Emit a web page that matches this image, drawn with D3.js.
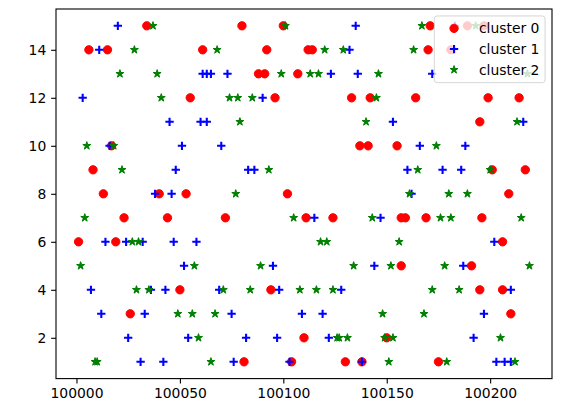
<!DOCTYPE html>
<html>
<head>
<meta charset="utf-8">
<script src="https://cdn.jsdelivr.net/npm/d3@7"></script>
<style>
  body { margin: 0; background: #fff; }
  svg { display: block; }
  text { font-family: "DejaVu Sans", sans-serif; }
</style>
</head>
<body>
<div id="chart"></div>
<script>
'use strict'

// points: [x, y]
const cluster0 = [
    [100034,15],[100080,15],[100100,15],[100171,15],[100189,15],[100197,15],
    [100006,14],[100015,14],[100061,14],[100092,14],[100112,14],[100114,14],[100170,14],[100181,14],
    [100088,13],[100091,13],[100107,13],
    [100055,12],[100096,12],[100133,12],[100142,12],[100164,12],[100199,12],[100214,12],
    [100195,11],
    [100017,10],[100137,10],[100141,10],[100155,10],
    [100008,9],[100201,9],[100217,9],
    [100013,8],[100040,8],[100053,8],[100102,8],[100209,8],
    [100023,7],[100044,7],[100072,7],[100111,7],[100124,7],[100157,7],[100159,7],[100169,7],[100196,7],
    [100001,6],[100019,6],[100206,6],
    [100157,5],[100191,5],
    [100050,4],[100094,4],[100195,4],[100206,4],
    [100026,3],[100210,3],
    [100110,2],[100150,2],
    [100081,1],[100104,1],[100130,1],[100138,1],[100175,1]
];

const cluster1 = [
    [100020,15],[100135,15],[100183,15],
    [100011,14],[100132,14],
    [100061,13],[100063,13],[100065,13],[100073,13],[100123,13],[100136,13],[100172,13],
    [100003,12],[100090,12],
    [100045,11],[100060,11],[100063,11],[100153,11],[100216,11],
    [100016,10],[100051,10],[100070,10],[100166,10],[100188,10],
    [100048,9],[100083,9],[100086,9],[100160,9],[100177,9],[100186,9],
    [100038,8],[100046,8],[100162,8],
    [100115,7],[100147,7],
    [100014,6],[100024,6],[100032,6],[100047,6],[100058,6],[100202,6],
    [100052,5],[100095,5],[100144,5],[100187,5],
    [100007,4],[100036,4],[100043,4],[100069,4],[100098,4],[100128,4],[100210,4],
    [100012,3],[100033,3],[100075,3],[100109,3],[100119,3],[100197,3],
    [100025,2],[100054,2],[100082,2],[100097,2],[100122,2],[100192,2],
    [100031,1],[100042,1],[100076,1],[100103,1],[100138,1],[100203,1],[100207,1],[100210,1]
];

const cluster2 = [
    [100037,15],[100101,15],[100167,15],[100193,15],
    [100028,14],[100068,14],[100120,14],[100129,14],[100163,14],
    [100021,13],[100039,13],[100099,13],[100113,13],[100117,13],[100146,13],[100218,13],
    [100041,12],[100074,12],[100078,12],[100085,12],[100145,12],
    [100079,11],[100140,11],[100213,11],
    [100005,10],[100018,10],[100174,10],
    [100022,9],[100093,9],[100165,9],[100200,9],
    [100077,8],[100161,8],[100180,8],[100189,8],
    [100004,7],[100105,7],[100143,7],[100176,7],[100181,7],[100215,7],
    [100027,6],[100030,6],[100118,6],[100121,6],[100156,6],
    [100002,5],[100057,5],[100089,5],[100134,5],[100152,5],[100178,5],[100219,5],
    [100029,4],[100035,4],[100071,4],[100084,4],[100108,4],[100116,4],[100124,4],[100172,4],[100185,4],
    [100049,3],[100056,3],[100067,3],[100148,3],[100168,3],
    [100059,2],[100126,2],[100127,2],[100131,2],[100149,2],[100153,2],[100205,2],
    [100009,1],[100010,1],[100065,1],[100151,1],[100179,1],[100212,1]
];

const clusterNames = ['cluster 0', 'cluster 1', 'cluster 2'];
const xTicks = [100000, 100050, 100100, 100150, 100200];
const yTicks = [2, 4, 6, 8, 10, 12, 14];

let width = 570,
    height = 416,
    margin = {top: 9, right: 18, bottom: 37.4, left: 56};

let svg = d3.select('#chart')
    .append('svg')
        .attr('width', width)
        .attr('height', height);

let all = cluster0.concat(cluster1, cluster2);

// matplotlib style 5% padding
let pad = ([lo, hi]) => [lo - (hi - lo) * 0.05, hi + (hi - lo) * 0.05];

let x = d3.scaleLinear()
    .domain(pad(d3.extent(all, d => d[0])))
    .range([margin.left, width - margin.right]);

let y = d3.scaleLinear()
    .domain(pad(d3.extent(all, d => d[1])))
    .range([height - margin.bottom, margin.top]);

const tick = 4.86;

let xAxis = svg.append('g')
    .attr('transform', `translate(0, ${height - margin.bottom})`)
    .call(d3.axisBottom(x).tickValues(xTicks).tickFormat(d3.format('d'))
        .tickSize(tick).tickPadding(tick).tickSizeOuter(0));

let yAxis = svg.append('g')
    .attr('transform', `translate(${margin.left}, 0)`)
    .call(d3.axisLeft(y).tickValues(yTicks).tickFormat(d3.format('d'))
        .tickSize(tick).tickPadding(tick).tickSizeOuter(0));

[xAxis, yAxis].forEach(g => {
    g.select('.domain').remove();
    g.selectAll('line').attr('stroke', '#000').attr('stroke-width', 1.1);
    g.selectAll('text')
        .attr('fill', '#000')
        .style('font-size', '13.9px')
        .style('font-family', '"DejaVu Sans", sans-serif');
});

// markers
const ms = 8.33;

let starPath = (r) => {
    let pts = d3.range(10).map(i => {
        let a = Math.PI / 2 + i * Math.PI / 5,
            rr = i % 2 === 0 ? r : r * 0.381966;
        return [rr * Math.cos(a), -rr * Math.sin(a)];
    });
    return 'M' + pts.map(p => p.join(',')).join('L') + 'Z';
};

let plusPath = (s) => `M${-s / 2},0H${s / 2}M0,${-s / 2}V${s / 2}`;

let drawCircle = (sel) => sel.append('circle')
    .attr('r', ms / 2)
    .attr('fill', 'red')
    .attr('stroke', 'red')
    .attr('stroke-width', 1);

let drawPlus = (sel) => sel.append('path')
    .attr('d', plusPath(ms))
    .attr('fill', 'none')
    .attr('stroke', 'blue')
    .attr('stroke-width', 2.08);

let drawStar = (sel) => sel.append('path')
    .attr('d', starPath(ms / 2))
    .attr('fill', 'green')
    .attr('stroke', 'green')
    .attr('stroke-width', 1)
    .attr('stroke-linejoin', 'miter');

let drawers = [drawCircle, drawPlus, drawStar];

[cluster0, cluster1, cluster2].forEach((data, i) => {
    svg.append('g')
        .selectAll('g')
        .data(data)
        .join('g')
            .attr('transform', d => `translate(${x(d[0])}, ${y(d[1])})`)
        .call(drawers[i]);
});

// frame
svg.append('rect')
    .attr('x', margin.left)
    .attr('y', margin.top)
    .attr('width', width - margin.left - margin.right)
    .attr('height', height - margin.top - margin.bottom)
    .attr('fill', 'none')
    .attr('stroke', '#000')
    .attr('stroke-width', 1.1);

// legend
let fs = 13.9;
let legW = 110.7, legH = 66.7;
let legX = width - margin.right - fs * 0.5 - legW,
    legY = margin.top + fs * 0.5;

let legend = svg.append('g')
    .attr('transform', `translate(${legX}, ${legY})`);

legend.append('rect')
    .attr('width', legW)
    .attr('height', legH)
    .attr('rx', 2.8)
    .attr('fill', '#fff')
    .attr('fill-opacity', 0.8)
    .attr('stroke', '#ccc')
    .attr('stroke-opacity', 0.8)
    .attr('stroke-width', 1);

let rows = legend.selectAll('g.item')
    .data(clusterNames)
    .join('g')
        .attr('class', 'item')
        .attr('transform', (d, i) => `translate(0, ${12.4 + i * 20.7})`);

rows.each(function(d, i) {
    let g = d3.select(this).append('g').attr('transform', 'translate(19.7, 0)');
    drawers[i](g);
});

rows.append('text')
    .attr('x', 44.6)
    .attr('dy', '0.36em')
    .style('font-size', fs + 'px')
    .attr('fill', '#000')
    .text(d => d);
</script>
</body>
</html>
